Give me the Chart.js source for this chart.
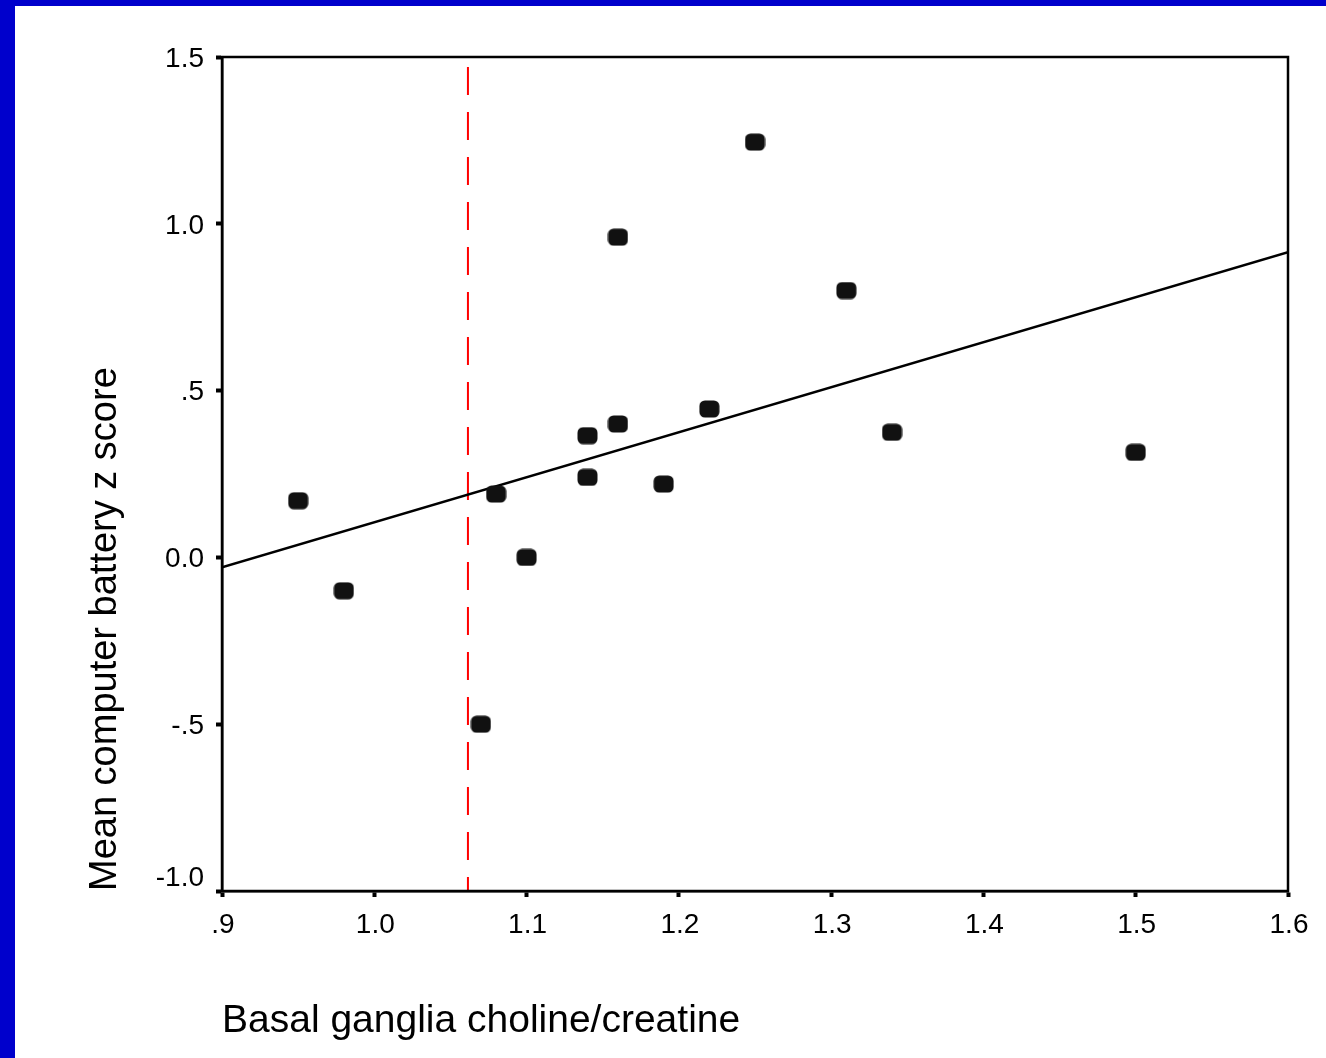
<!DOCTYPE html>
<html>
<head>
<meta charset="utf-8">
<script src="https://cdn.jsdelivr.net/npm/chart.js@4.4.1/dist/chart.umd.min.js"></script>
<style>
html,body{margin:0;padding:0;background:#0000cc;width:1326px;height:1058px;overflow:hidden;}
#wrap{position:absolute;left:15px;top:6px;width:1311px;height:1052px;background:#fff;}
canvas{display:block;}
</style>
</head>
<body>
<div id="wrap"><canvas id="c" width="1311" height="1052"></canvas></div>
<script>
// ---- data ----
const xValues = [0.95, 0.98, 1.07, 1.08, 1.10, 1.14, 1.14, 1.16, 1.16, 1.19, 1.22, 1.25, 1.31, 1.34, 1.50];
const yValues = [0.17, -0.10, -0.50, 0.19, 0.00, 0.365, 0.24, 0.96, 0.40, 0.22, 0.445, 1.245, 0.80, 0.375, 0.315];
const fitX = [0.9, 1.6];
const fitY = [-0.03, 0.915];
const cutoffX = [1.0615, 1.0615];
const cutoffY = [1.47, -1.0];
const xTickLabels = ['.9', '1.0', '1.1', '1.2', '1.3', '1.4', '1.5', '1.6'];
const yTickLabels = ['-1.0', '-.5', '0.0', '.5', '1.0', '1.5'];
const xTitle = 'Basal ganglia choline/creatine';
const yTitle = 'Mean computer battery z score';

// marker image
const mk = document.createElement('canvas');
mk.width = 21; mk.height = 18;
(function(){
  const g = mk.getContext('2d');
  g.fillStyle = '#111';
  g.beginPath();
  if (g.roundRect) g.roundRect(0.5, 0.5, 20, 17, 5.5); else g.rect(0.5,0.5,20,17);
  g.fill();
})();

const frame = {
  id: 'frame',
  afterDatasetsDraw(chart) {
    const {ctx, chartArea: a} = chart;
    ctx.save();
    ctx.strokeStyle = '#000';
    ctx.lineWidth = 2.5;
    ctx.strokeRect(a.left, a.top, a.right - a.left, a.bottom - a.top);
    ctx.restore();
  }
};

const FONT = "'Liberation Sans', Arial, sans-serif";

new Chart(document.getElementById('c'), {
  type: 'scatter',
  data: {
    datasets: [
      {
        type: 'line',
        data: cutoffX.map((x, i) => ({x, y: cutoffY[i]})),
        borderColor: '#ff0000',
        borderWidth: 2,
        borderDash: [28, 17],
        pointRadius: 0,
        fill: false,
        order: 3
      },
      {
        type: 'line',
        data: fitX.map((x, i) => ({x, y: fitY[i]})),
        borderColor: '#000',
        borderWidth: 2.5,
        pointRadius: 0,
        fill: false,
        order: 2
      },
      {
        data: xValues.map((x, i) => ({x, y: yValues[i]})),
        pointStyle: mk,
        pointRadius: 9,
        order: 1
      }
    ]
  },
  options: {
    responsive: false,
    animation: false,
    devicePixelRatio: 1,
    layout: {padding: {top: 51, right: 38, left: 0, bottom: 0}},
    plugins: {legend: {display: false}, tooltip: {enabled: false}},
    scales: {
      x: {
        type: 'linear',
        min: 0.9, max: 1.6,
        ticks: {
          stepSize: 0.1,
          color: '#000',
          font: {family: FONT, size: 28},
          padding: 11,
          labelOffset: 1,
          maxRotation: 0,
          callback: (v, i) => xTickLabels[i]
        },
        grid: {drawOnChartArea: false, drawTicks: true, tickLength: 6, tickWidth: 4, tickColor: '#000'},
        border: {display: true, color: '#000', width: 2.5},
        title: {
          display: true, text: xTitle, align: 'start', color: '#000',
          font: {family: FONT, size: 39}, padding: {top: 0, bottom: 13}
        },
        afterFit: s => { s.height = 167; }
      },
      y: {
        type: 'linear',
        min: -1.0, max: 1.5,
        ticks: {
          stepSize: 0.5,
          color: '#000',
          font: {family: FONT, size: 28, lineHeight: 1.07},
          padding: 12,
          labelOffset: 2,
          callback: (v, i) => i === 0 ? [yTickLabels[i], ''] : yTickLabels[i]
        },
        grid: {drawOnChartArea: false, drawTicks: true, tickLength: 6, tickWidth: 4, tickColor: '#000'},
        border: {display: true, color: '#000', width: 2.5},
        title: {
          display: true, text: yTitle, align: 'start', color: '#000',
          font: {family: FONT, size: 38}, padding: {top: 68, bottom: 0}
        },
        afterFit: s => { s.width = 207; }
      }
    }
  },
  plugins: [frame]
});
</script>
</body>
</html>
